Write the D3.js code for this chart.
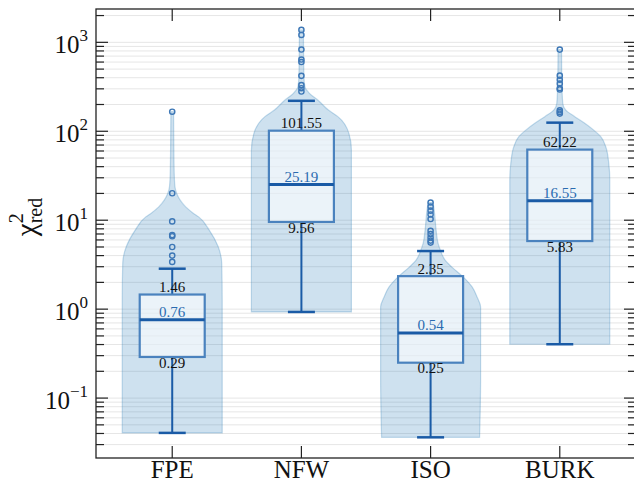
<!DOCTYPE html>
<html>
<head>
<meta charset="utf-8">
<script src="https://cdn.jsdelivr.net/npm/d3@7"></script>
<style>
body { margin: 0; background: #ffffff; }
text { font-family: "Liberation Serif", "Times New Roman", "DejaVu Serif", serif; }
</style>
</head>
<body>
<div id="chart"></div>
<script>
var models = ["FPE", "NFW", "ISO", "BURK"];
var q1 = [0.29, 9.56, 0.25, 5.83];
var medians = [0.76, 25.19, 0.54, 16.55];
var q3 = [1.46, 101.55, 2.35, 62.22];
var whiskerLow = [0.0406, 0.93, 0.0362, 0.403];
var whiskerHigh = [2.85, 220, 4.5, 125];
var outliers = [
    [166, 20.1, 9.7, 6.8, 6.6, 5.0, 4.0, 3.4],
    [1380, 1210, 830, 640, 600, 420, 330, 305, 280],
    [15.8, 14.2, 12.8, 11.6, 10.3, 7.6, 7.0, 6.4, 5.9, 5.6],
    [828, 422, 380, 343, 305, 295, 172, 165, 158]
];
// violin outline: value along y, relative half width
var violinValues = [
    [0.0406, 1.26, 3.29, 5.02, 7.74, 10.9, 12.0, 14.1, 16.8, 20.0, 23.7, 33.8, 79.7, 166],
    [0.93, 30.8, 61.5, 94.7, 146, 173, 219, 267, 317, 418, 1380],
    [0.0362, 0.159, 0.752, 1.06, 1.37, 1.78, 2.31, 2.99, 3.56, 4.53, 5.48, 7.74, 11.9, 15.8],
    [0.403, 28.3, 43.5, 66.9, 86.8, 103, 123, 146, 173, 206, 377, 828]
];
var violinWidths = [
    [1, 1, 0.99, 0.92, 0.74, 0.53, 0.42, 0.27, 0.16, 0.09, 0.055, 0.04, 0.031, 0.027],
    [1, 1, 1, 0.95, 0.73, 0.54, 0.35, 0.16, 0.07, 0.05, 0.04],
    [0.98, 1, 1, 1, 0.93, 0.83, 0.65, 0.42, 0.29, 0.2, 0.15, 0.11, 0.08, 0.05],
    [1, 1, 0.98, 0.92, 0.82, 0.68, 0.5, 0.3, 0.12, 0.06, 0.04, 0.035]
];
var yMajor = [0.1, 1, 10, 100, 1000];
var yMajorExp = ["\u22121", "0", "1", "2", "3"];

var padL = 96, padR = 636, padT = 9, padB = 458;
var violinHalf = 50, boxHalf = 32.5, capHalf = 13.5;
var violinColor = "#1f77b4", boxEdge = "#4a82be", lineBlue = "#1a5ba6";
var gridColor = "#e6e6e6", axisColor = "#222222";

var svg = d3.select("#chart")
    .append("svg")
    .attr("width", 634)
    .attr("height", 482);

var x = d3.scalePoint().domain(models).range([padL, padR]).padding(0.59);
var y = d3.scaleLog().domain([0.0212, 2370]).range([padB, padT]);

// all decade + minor tick values inside the domain
var allTicks = [];
for (let e = -2; e <= 3; e++) {
    for (let k = 1; k <= 9; k++) {
        var v = k * Math.pow(10, e);
        if (v >= y.domain()[0] && v <= y.domain()[1]) {
            allTicks.push({ v: v, major: k === 1 });
        }
    }
}

// grid
svg.append("g").selectAll("line")
    .data(allTicks)
    .enter().append("line")
    .attr("x1", padL).attr("x2", padR)
    .attr("y1", d => y(d.v)).attr("y2", d => y(d.v))
    .attr("stroke", gridColor)
    .attr("stroke-width", 1);

for (let i = 0; i < models.length; i++) {
    var cx = x(models[i]);
    var prof = violinValues[i].map((v, j) => ({ v: v, w: violinWidths[i][j] }));

    var area = d3.area()
        .y(d => y(d.v))
        .x0(d => cx - d.w * violinHalf)
        .x1(d => cx + d.w * violinHalf)
        .curve(d3.curveMonotoneY);

    svg.append("path")
        .attr("d", area(prof))
        .attr("fill", violinColor)
        .attr("fill-opacity", 0.22)
        .attr("stroke", violinColor)
        .attr("stroke-opacity", 0.25)
        .attr("stroke-width", 1.2);

    // whiskers
    svg.append("line")
        .attr("x1", cx).attr("x2", cx)
        .attr("y1", y(whiskerLow[i])).attr("y2", y(q1[i]))
        .attr("stroke", lineBlue).attr("stroke-width", 2);
    svg.append("line")
        .attr("x1", cx).attr("x2", cx)
        .attr("y1", y(q3[i])).attr("y2", y(whiskerHigh[i]))
        .attr("stroke", lineBlue).attr("stroke-width", 2);
    svg.append("line")
        .attr("x1", cx - capHalf).attr("x2", cx + capHalf)
        .attr("y1", y(whiskerLow[i])).attr("y2", y(whiskerLow[i]))
        .attr("stroke", lineBlue).attr("stroke-width", 2.5);
    svg.append("line")
        .attr("x1", cx - capHalf).attr("x2", cx + capHalf)
        .attr("y1", y(whiskerHigh[i])).attr("y2", y(whiskerHigh[i]))
        .attr("stroke", lineBlue).attr("stroke-width", 2.5);

    // box
    svg.append("rect")
        .attr("x", cx - boxHalf)
        .attr("y", y(q3[i]))
        .attr("width", boxHalf * 2)
        .attr("height", y(q1[i]) - y(q3[i]))
        .attr("fill", "#ffffff")
        .attr("fill-opacity", 0.6)
        .attr("stroke", boxEdge)
        .attr("stroke-width", 2.2);
    svg.append("line")
        .attr("x1", cx - boxHalf).attr("x2", cx + boxHalf)
        .attr("y1", y(medians[i])).attr("y2", y(medians[i]))
        .attr("stroke", lineBlue).attr("stroke-width", 3);

    // outliers
    svg.append("g").selectAll("circle")
        .data(outliers[i])
        .enter().append("circle")
        .attr("cx", cx)
        .attr("cy", d => y(d))
        .attr("r", 2.6)
        .attr("fill", "none")
        .attr("stroke", "#3d77b6")
        .attr("stroke-width", 1.4);

    // value labels
    svg.append("text")
        .attr("x", cx).attr("y", y(q3[i]) - 2.5)
        .attr("text-anchor", "middle")
        .attr("font-size", "15px")
        .attr("fill", "#111111")
        .text(q3[i].toFixed(2));
    svg.append("text")
        .attr("x", cx).attr("y", y(medians[i]) - 3)
        .attr("text-anchor", "middle")
        .attr("font-size", "15px")
        .attr("fill", "#2a6bb0")
        .text(medians[i].toFixed(2));
    svg.append("text")
        .attr("x", cx).attr("y", y(q1[i]) + 10.8)
        .attr("text-anchor", "middle")
        .attr("font-size", "15px")
        .attr("fill", "#111111")
        .text(q1[i].toFixed(2));
}

// y ticks, both sides, pointing in
svg.append("g").selectAll("line")
    .data(allTicks)
    .enter().append("line")
    .attr("x1", padL).attr("x2", d => padL + (d.major ? 12 : 8))
    .attr("y1", d => y(d.v)).attr("y2", d => y(d.v))
    .attr("stroke", axisColor).attr("stroke-width", 1.2);
svg.append("g").selectAll("line")
    .data(allTicks)
    .enter().append("line")
    .attr("x1", padR).attr("x2", d => padR - (d.major ? 12 : 8))
    .attr("y1", d => y(d.v)).attr("y2", d => y(d.v))
    .attr("stroke", axisColor).attr("stroke-width", 1.2);

// x ticks top and bottom
for (let i = 0; i < models.length; i++) {
    svg.append("line")
        .attr("x1", x(models[i])).attr("x2", x(models[i]))
        .attr("y1", padB).attr("y2", padB - 12)
        .attr("stroke", axisColor).attr("stroke-width", 1.2);
    svg.append("line")
        .attr("x1", x(models[i])).attr("x2", x(models[i]))
        .attr("y1", padT).attr("y2", padT + 12)
        .attr("stroke", axisColor).attr("stroke-width", 1.2);
    svg.append("text")
        .attr("x", x(models[i]))
        .attr("y", 477.5)
        .attr("text-anchor", "middle")
        .attr("font-size", "25px")
        .attr("fill", "#111111")
        .text(models[i]);
}

// y tick labels 10^k
for (let i = 0; i < yMajor.length; i++) {
    var t = svg.append("text")
        .attr("x", 88)
        .attr("y", y(yMajor[i]) + 10.5)
        .attr("text-anchor", "end")
        .attr("fill", "#111111");
    t.append("tspan").attr("font-size", "25px").text("10");
    t.append("tspan").attr("font-size", "17px").attr("dy", -12).text(yMajorExp[i]);
}

// frame
svg.append("rect")
    .attr("x", padL).attr("y", padT)
    .attr("width", padR - padL).attr("height", padB - padT)
    .attr("fill", "none")
    .attr("stroke", axisColor)
    .attr("stroke-width", 1.3);

// y label chi^2_red
var lab = svg.append("text")
    .attr("transform", "translate(36, 217) rotate(-90)")
    .attr("text-anchor", "middle")
    .attr("fill", "#111111");
lab.append("tspan").attr("font-size", "29px").text("\u03c7");
lab.append("tspan").attr("font-size", "20px").attr("dy", -13).text("2");
lab.append("tspan").attr("font-size", "20px").attr("dx", -10).attr("dy", 19).text("red");
</script>
</body>
</html>
